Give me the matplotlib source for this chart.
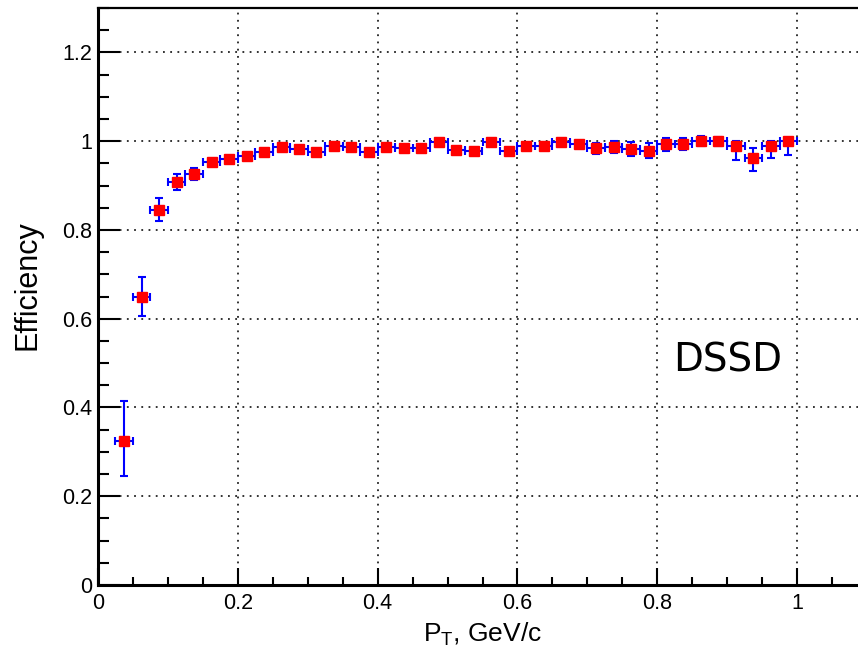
import numpy as np
import matplotlib
matplotlib.use("Agg")
import matplotlib.pyplot as plt
from matplotlib.ticker import MultipleLocator, FormatStrFormatter

plt.rcParams['font.family'] = ['Liberation Sans', 'DejaVu Sans']
plt.rcParams['mathtext.fontset'] = 'custom'
plt.rcParams['mathtext.rm'] = 'Liberation Sans'

# track-finding efficiency per pT bin (bin width 0.025 GeV/c)
pt = [0.0375, 0.0625, 0.0875, 0.1125, 0.1375, 0.1625, 0.1875, 0.2125, 0.2375, 0.2625,
      0.2875, 0.3125, 0.3375, 0.3625, 0.3875, 0.4125, 0.4375, 0.4625, 0.4875, 0.5125,
      0.5375, 0.5625, 0.5875, 0.6125, 0.6375, 0.6625, 0.6875, 0.7125, 0.7375, 0.7625,
      0.7875, 0.8125, 0.8375, 0.8625, 0.8875, 0.9125, 0.9375, 0.9625, 0.9875]
pt_halfwidth = 0.0125

eff = [0.325, 0.650, 0.846, 0.908, 0.926, 0.952, 0.959, 0.966, 0.975, 0.986,
       0.982, 0.976, 0.989, 0.986, 0.976, 0.986, 0.984, 0.985, 0.997, 0.980,
       0.977, 0.997, 0.977, 0.989, 0.988, 0.997, 0.993, 0.984, 0.987, 0.982,
       0.978, 0.993, 0.993, 1.000, 1.000, 0.989, 0.963, 0.989, 1.000]

err_lo = [0.080, 0.045, 0.026, 0.018, 0.014, 0.008, 0.007, 0.007, 0.005, 0.005,
          0.006, 0.006, 0.006, 0.006, 0.006, 0.006, 0.006, 0.006, 0.006, 0.006,
          0.006, 0.006, 0.006, 0.006, 0.006, 0.006, 0.008, 0.012, 0.014, 0.016,
          0.017, 0.015, 0.014, 0.012, 0.010, 0.032, 0.031, 0.027, 0.032]

err_hi = [0.090, 0.045, 0.026, 0.018, 0.014, 0.008, 0.007, 0.007, 0.005, 0.005,
          0.006, 0.006, 0.006, 0.006, 0.006, 0.006, 0.006, 0.006, 0.006, 0.006,
          0.006, 0.006, 0.006, 0.006, 0.006, 0.006, 0.008, 0.012, 0.014, 0.016,
          0.017, 0.015, 0.014, 0.012, 0.010, 0.011, 0.021, 0.011, 0.008]

fig = plt.figure(figsize=(8.58, 6.55), dpi=100)
ax = fig.add_axes([98 / 858, 70 / 655, 769 / 858, 577 / 655])

ax.errorbar(pt, eff, xerr=pt_halfwidth, yerr=[err_lo, err_hi],
            fmt='s', color='#0000ff', ecolor='#0000ff', elinewidth=1.5,
            capsize=3, capthick=1.5, markersize=6.5,
            markerfacecolor='#ff0000', markeredgecolor='#ff0000', zorder=3)

ax.set_xlim(0, 1.1)
ax.set_ylim(0, 1.3)

ax.xaxis.set_major_locator(MultipleLocator(0.2))
ax.xaxis.set_minor_locator(MultipleLocator(0.05))
ax.yaxis.set_major_locator(MultipleLocator(0.2))
ax.yaxis.set_minor_locator(MultipleLocator(0.05))
ax.xaxis.set_major_formatter(FormatStrFormatter('%g'))
ax.yaxis.set_major_formatter(FormatStrFormatter('%g'))

ax.tick_params(axis='both', which='both', direction='in', width=1.5,
               labelsize=15.5, top=False, right=False, color='black')
ax.tick_params(axis='y', which='major', length=16, pad=4)
ax.tick_params(axis='y', which='minor', length=8)
ax.tick_params(axis='x', which='major', length=12, pad=6)
ax.tick_params(axis='x', which='minor', length=6)

for side in ['left', 'bottom']:
    ax.spines[side].set_linewidth(2.2)
ax.spines['top'].set_linewidth(1.6)
ax.spines['right'].set_visible(False)

ax.grid(True, which='major', color='#222222', linestyle=(0, (1, 3)), linewidth=1.3)
ax.set_axisbelow(True)

ax.set_xlabel(r'$\mathregular{P_T}$, GeV/c', fontsize=19, labelpad=5)
ax.set_ylabel('Efficiency', fontsize=22)
ax.yaxis.set_label_coords(-0.072, 0.52)

ax.text(0.9, 0.505, 'DSSD', fontsize=28, family='DejaVu Sans',
        ha='center', va='center', transform=ax.transData)

fig.savefig('out.png', dpi=100)
